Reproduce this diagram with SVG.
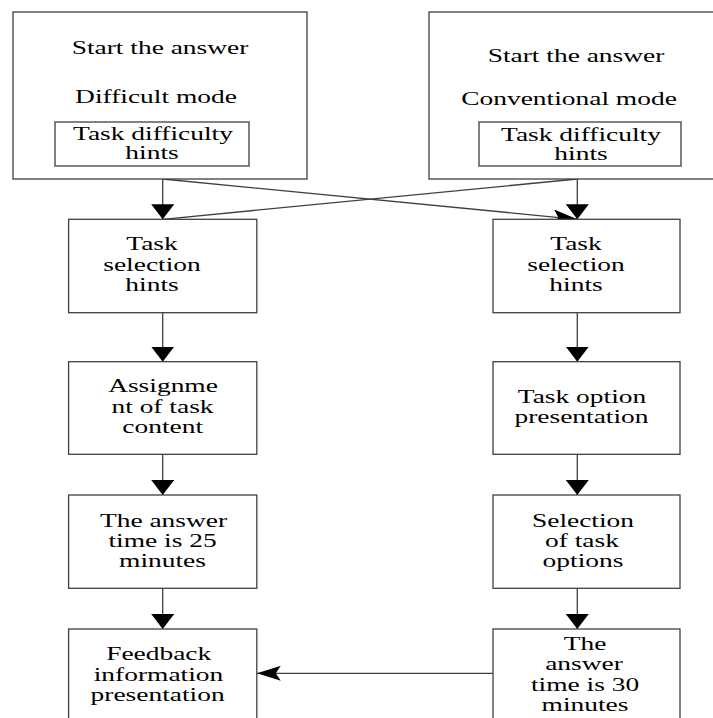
<svg xmlns="http://www.w3.org/2000/svg" width="713" height="718" viewBox="0 0 713 718">
<style>
.box{fill:#fff;stroke:#404040;stroke-width:1.3}
.t{font-family:"Liberation Serif","Times New Roman",serif;font-size:18.3px;fill:#000;text-anchor:middle}
.ln{fill:none;stroke:#404040;stroke-width:1.3}
</style>
<defs>
<marker id="tri" markerUnits="userSpaceOnUse" markerWidth="15" markerHeight="23" viewBox="0 0 15 23" refX="15" refY="11.5" orient="auto">
<path d="M0,0 L15,11.5 L0,23 Z" fill="#000"/>
</marker>
<marker id="notch" markerUnits="userSpaceOnUse" markerWidth="24" markerHeight="15" viewBox="0 0 24 15" refX="24" refY="7.5" orient="auto">
<path d="M0,0 L24,7.5 L0,15 L5,7.5 Z" fill="#000"/>
</marker>
</defs>
<rect width="713" height="718" fill="#fff"/>

<g id="connectors">
<line class="ln" x1="162.7" y1="179" x2="162.7" y2="219.3" marker-end="url(#tri)"/>
<line class="ln" x1="577.3" y1="179" x2="577.3" y2="219.3" marker-end="url(#tri)"/>
<line class="ln" x1="162.7" y1="179" x2="577.3" y2="219.3" marker-end="url(#notch)"/>
<line class="ln" x1="577.3" y1="179" x2="162.7" y2="219.3"/>
<line class="ln" x1="162.7" y1="312.7" x2="162.7" y2="361.7" marker-end="url(#tri)"/>
<line class="ln" x1="162.7" y1="454.3" x2="162.7" y2="495" marker-end="url(#tri)"/>
<line class="ln" x1="162.7" y1="588.3" x2="162.7" y2="629" marker-end="url(#tri)"/>
<line class="ln" x1="577.3" y1="312.7" x2="577.3" y2="361.7" marker-end="url(#tri)"/>
<line class="ln" x1="577.3" y1="454.3" x2="577.3" y2="495" marker-end="url(#tri)"/>
<line class="ln" x1="577.3" y1="588.3" x2="577.3" y2="629" marker-end="url(#tri)"/>
<line class="ln" x1="493" y1="673.3" x2="256.8" y2="673.3" marker-end="url(#notch)"/>
</g>

<g id="start-difficult">
<rect class="box" x="13" y="12" width="294" height="167"/>
<text class="t" transform="translate(160,54) scale(1.5,1)">Start the answer</text>
<text class="t" transform="translate(156,103.3) scale(1.5,1)">Difficult mode</text>
<g id="hint-difficult">
<rect class="box" x="55" y="122" width="194" height="44"/>
<text class="t" transform="translate(153,140) scale(1.5,1)">Task difficulty</text>
<text class="t" transform="translate(152,159.3) scale(1.5,1)">hints</text>
</g>
</g>

<g id="start-conventional">
<rect class="box" x="429" y="12" width="340" height="167"/>
<text class="t" transform="translate(576,61.7) scale(1.5,1)">Start the answer</text>
<text class="t" transform="translate(569,105) scale(1.5,1)">Conventional mode</text>
<g id="hint-conventional">
<rect class="box" x="479" y="122" width="202" height="44"/>
<text class="t" transform="translate(581,141) scale(1.5,1)">Task difficulty</text>
<text class="t" transform="translate(581,160.3) scale(1.5,1)">hints</text>
</g>
</g>

<g id="left-selection">
<rect class="box" x="68.6" y="219.3" width="188.2" height="93.4"/>
<text class="t" transform="translate(152,250) scale(1.5,1)">Task</text>
<text class="t" transform="translate(152,270.5) scale(1.5,1)">selection</text>
<text class="t" transform="translate(152,290.7) scale(1.5,1)">hints</text>
</g>

<g id="right-selection">
<rect class="box" x="493" y="219.3" width="187" height="93.4"/>
<text class="t" transform="translate(576,250) scale(1.5,1)">Task</text>
<text class="t" transform="translate(576,270.5) scale(1.5,1)">selection</text>
<text class="t" transform="translate(576,290.7) scale(1.5,1)">hints</text>
</g>

<g id="assignment">
<rect class="box" x="68.6" y="361.7" width="188.2" height="92.6"/>
<text class="t" transform="translate(163,392) scale(1.5,1)">Assignme</text>
<text class="t" transform="translate(162.5,413) scale(1.5,1)">nt of task</text>
<text class="t" transform="translate(162.7,433.3) scale(1.5,1)">content</text>
</g>

<g id="option-presentation">
<rect class="box" x="493" y="361.7" width="187" height="92.6"/>
<text class="t" transform="translate(582,402.7) scale(1.5,1)">Task option</text>
<text class="t" transform="translate(581.5,422.7) scale(1.5,1)">presentation</text>
</g>

<g id="time-25">
<rect class="box" x="68.6" y="495" width="188.2" height="93.3"/>
<text class="t" transform="translate(163.5,526.7) scale(1.5,1)">The answer</text>
<text class="t" transform="translate(162.5,547.3) scale(1.5,1)">time is 25</text>
<text class="t" transform="translate(162.5,567.3) scale(1.5,1)">minutes</text>
</g>

<g id="option-selection">
<rect class="box" x="493" y="495" width="187" height="93.3"/>
<text class="t" transform="translate(583,526.7) scale(1.5,1)">Selection</text>
<text class="t" transform="translate(582,547.3) scale(1.5,1)">of task</text>
<text class="t" transform="translate(583,567.3) scale(1.5,1)">options</text>
</g>

<g id="feedback">
<rect class="box" x="68.6" y="629" width="188.2" height="120"/>
<text class="t" transform="translate(158.7,660) scale(1.5,1)">Feedback</text>
<text class="t" transform="translate(158.5,680.7) scale(1.5,1)">information</text>
<text class="t" transform="translate(157.6,700.7) scale(1.5,1)">presentation</text>
</g>

<g id="time-30">
<rect class="box" x="493" y="629" width="187" height="120"/>
<text class="t" transform="translate(585,650) scale(1.5,1)">The</text>
<text class="t" transform="translate(584,670) scale(1.5,1)">answer</text>
<text class="t" transform="translate(585,690.7) scale(1.5,1)">time is 30</text>
<text class="t" transform="translate(585,710.7) scale(1.5,1)">minutes</text>
</g>
</svg>
